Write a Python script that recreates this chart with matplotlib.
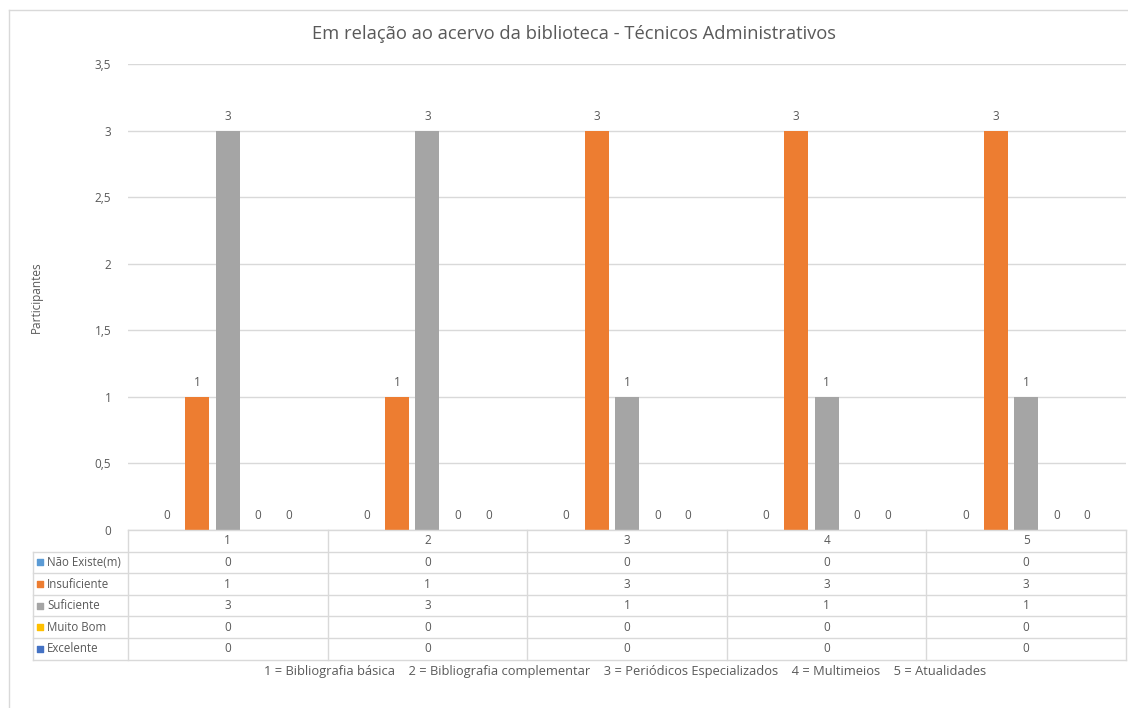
import numpy as np
import matplotlib.pyplot as plt
from matplotlib.lines import Line2D

plt.rcParams['font.family'] = ['Open Sans', 'DejaVu Sans']

# Daten
categories = ['1', '2', '3', '4', '5']
series_names = ['Não Existe(m)', 'Insuficiente', 'Suficiente', 'Muito Bom', 'Excelente']
nao_existe = [0, 0, 0, 0, 0]
insuficiente = [1, 1, 3, 3, 3]
suficiente = [3, 3, 1, 1, 1]
muito_bom = [0, 0, 0, 0, 0]
excelente = [0, 0, 0, 0, 0]
yticks = [0, 0.5, 1, 1.5, 2, 2.5, 3, 3.5]
ytick_labels = ['0', '0,5', '1', '1,5', '2', '2,5', '3', '3,5']
footer = ('1 = Bibliografia básica    2 = Bibliografia complementar    '
          '3 = Periódicos Especializados    4 = Multimeios    5 = Atualidades')

all_series = [nao_existe, insuficiente, suficiente, muito_bom, excelente]
colors = ['#5B9BD5', '#ED7D31', '#A5A5A5', '#FFC000', '#4472C4']
txt = '#595959'
grid = '#D9D9D9'

W, H = 1128, 708
fig = plt.figure(figsize=(W / 100, H / 100), dpi=100)

def px(x0, y0, x1, y1):
    return [x0 / W, 1 - y1 / H, (x1 - x0) / W, (y1 - y0) / H]

# Hauptdiagramm
ax = fig.add_axes(px(128, 64, 1126, 530))
n = len(categories)
x = np.arange(n)
step = 0.1525
width = 0.12
for i, (vals, c) in enumerate(zip(all_series, colors)):
    pos = x + (i - 2) * step
    ax.bar(pos, vals, width=width, color=c, zorder=3)
    for p, v in zip(pos, vals):
        ax.text(p, v + 0.06, str(v), ha='center', va='bottom', fontsize=8.5, color=txt)

ax.set_xlim(-0.5, n - 0.5)
ax.set_ylim(0, 3.5)
ax.set_yticks(yticks)
ax.set_yticklabels(ytick_labels, fontsize=8.5, color=txt)
ax.set_xticks([])
ax.tick_params(axis='y', length=0, pad=12)
ax.yaxis.grid(True, color=grid, linewidth=1, zorder=0)
for s in ax.spines.values():
    s.set_visible(False)
ax.set_ylabel('Participantes', fontsize=8.5, color=txt)
ax.yaxis.set_label_coords((43 - 128) / 998, 0.5)

# Tabelle unter dem Diagramm
row_h = 21.6
top = 530
tab = fig.add_axes(px(128, top, 1126, top + row_h * 6))
tab.set_xlim(-0.5, n - 0.5)
tab.set_ylim(6, 0)
tab.axis('off')
lab_x = -0.5 - 95 / 200

lkw = dict(color=grid, linewidth=1, clip_on=False)
# horizontale Linien
tab.plot([-0.5, n - 0.5], [0, 0], **lkw)
for r in range(1, 7):
    tab.plot([lab_x, n - 0.5], [r, r], **lkw)
# vertikale Linien
for b in range(n + 1):
    tab.plot([b - 0.5, b - 0.5], [0, 6], **lkw)
tab.plot([lab_x, lab_x], [1, 6], **lkw)

for j, cat in enumerate(categories):
    tab.text(j, 0.5, cat, ha='center', va='center', fontsize=8.5, color=txt)
for r, (name, vals, c) in enumerate(zip(series_names, all_series, colors)):
    yy = r + 1.5
    tab.scatter([lab_x + 0.035], [yy], marker='s', s=24, color=c, clip_on=False)
    tab.text(lab_x + 0.07, yy, name, ha='left', va='center', fontsize=8.3, color=txt)
    for j, v in enumerate(vals):
        tab.text(j, yy, str(v), ha='center', va='center', fontsize=8.5, color=txt)

# Titel und Fusszeile
fig.text(574 / W, 1 - 34 / H, 'Em relação ao acervo da biblioteca - Técnicos Administrativos',
         ha='center', va='center', fontsize=13.2, color=txt)
fig.text(625 / W, 1 - 672 / H, footer, ha='center', va='center', fontsize=9.3, color=txt)

# Rahmen
fig.add_artist(Line2D([8.5 / W, 8.5 / W], [0, 1 - 10 / H], color=grid, linewidth=1,
                      transform=fig.transFigure))
fig.add_artist(Line2D([8.5 / W, 1], [1 - 10 / H, 1 - 10 / H], color=grid, linewidth=1,
                      transform=fig.transFigure))

fig.savefig('out.png', dpi=100)
